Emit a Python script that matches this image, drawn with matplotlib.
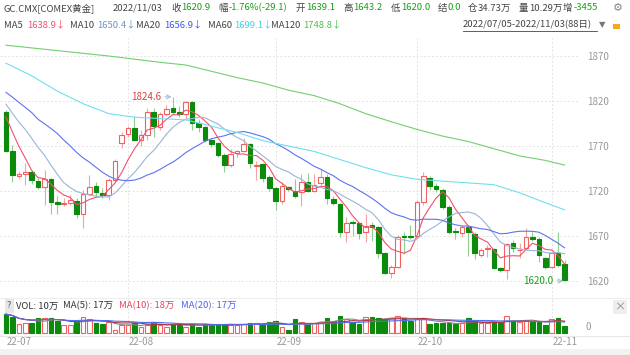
import matplotlib
matplotlib.use('Agg')
import matplotlib.pyplot as plt
import numpy as np
import pandas as pd

plt.rcParams['font.family'] = ['Noto Sans CJK SC', 'DejaVu Sans']

# GC.CMX 日K线 2022/07/05 - 2022/11/03 (88日)
opens = [1808, 1764, 1737, 1738.5, 1741, 1731, 1724, 1733, 1708, 1706,
         1707, 1709, 1694, 1717, 1726, 1718, 1716, 1732, 1773, 1783,
         1790, 1777, 1782, 1808, 1791, 1805.6, 1812, 1808, 1806, 1819,
         1796, 1791, 1777, 1773, 1760, 1749, 1762, 1764, 1772, 1748,
         1750, 1736, 1723, 1709, 1724, 1720, 1718.5, 1730, 1720, 1728.5,
         1736, 1711, 1706, 1674, 1686, 1684, 1674, 1682, 1680, 1651,
         1629, 1636, 1670, 1670, 1670, 1708, 1734, 1726, 1721, 1702.6,
         1676, 1673, 1680, 1672, 1649, 1655.5, 1656, 1634, 1632, 1662.6,
         1654, 1657, 1669, 1667, 1646, 1636, 1651, 1639.1]
highs = [1810, 1771, 1742, 1751, 1743, 1734, 1743, 1734, 1714, 1712,
         1716, 1712, 1721, 1738, 1730, 1723, 1734, 1756, 1786, 1792,
         1803, 1788, 1812, 1812, 1808, 1816, 1824.6, 1814, 1820, 1820,
         1800, 1792, 1779, 1775, 1762, 1767, 1766, 1778.5, 1773, 1753,
         1751, 1738, 1724, 1730, 1726, 1733, 1739, 1740, 1739, 1745,
         1739, 1714, 1707, 1691.5, 1688, 1686, 1695, 1686, 1681, 1652,
         1638, 1671, 1675, 1682, 1710, 1741, 1737, 1728.5, 1723, 1704,
         1678.5, 1682, 1682, 1674, 1657, 1660, 1657, 1636, 1662, 1665.6,
         1662, 1678.5, 1675, 1669, 1647, 1651, 1675, 1643.2]
lows = [1763, 1730, 1735, 1727, 1728, 1722, 1704, 1695, 1695, 1703,
        1705, 1690, 1678.5, 1716, 1715, 1712, 1710, 1730, 1768, 1780,
        1776, 1770, 1777, 1780, 1788, 1803, 1805.6, 1802, 1801, 1788,
        1786, 1775, 1769, 1758, 1741, 1747, 1758, 1763, 1746, 1732,
        1730, 1720, 1699, 1706, 1720, 1712, 1703, 1719, 1719, 1727,
        1706, 1705, 1669, 1663, 1670, 1667, 1663, 1664, 1646, 1628,
        1623, 1634, 1650, 1667, 1668, 1705, 1721, 1719, 1700, 1672,
        1667, 1669, 1648, 1645, 1647, 1647, 1633, 1630, 1622, 1652,
        1646, 1654, 1664, 1641.5, 1633, 1634, 1636, 1620.0]
closes = [1764, 1738, 1739, 1741, 1732, 1724, 1733, 1708, 1706, 1707,
          1710, 1694, 1717, 1725, 1718.5, 1716, 1732, 1753, 1782, 1790,
          1777, 1782, 1808, 1792, 1805.6, 1811, 1808, 1806, 1819, 1796,
          1791, 1777, 1772, 1760, 1749, 1760.8, 1764, 1772, 1751, 1749,
          1735, 1723, 1709, 1726, 1722, 1714, 1730, 1720, 1727, 1735,
          1712, 1707, 1674, 1684, 1684.5, 1673, 1681, 1680, 1651.5, 1629,
          1636, 1668.5, 1669, 1668.5, 1708, 1737, 1725.6, 1722, 1702.6, 1675,
          1674, 1679.6, 1674, 1651, 1655, 1656.5, 1634, 1632, 1661, 1657,
          1655, 1669.4, 1667, 1649, 1635.6, 1651, 1638, 1620.9]
# 成交量 (万)
volumes = [29, 25, 14, 15, 16, 23, 23, 23, 18, 13,
           13, 18, 25, 22, 15, 14, 17, 5, 13, 13,
           16, 10, 13, 17, 13, 10, 14, 13, 10, 14,
           10, 14, 13, 14, 14, 13, 12, 14, 16, 15,
           14, 17, 19, 10, 5, 21, 17, 14, 15, 17,
           23, 19, 26, 22, 17, 14, 24, 24, 23, 21,
           23, 26, 23, 19, 21, 22, 14, 15, 15, 15,
           14, 15, 23, 18, 15, 15, 17, 17, 26, 18,
           17, 19, 19, 17, 13, 21, 23, 10.29]
# 区间之前的收盘价（按图中均线起点估计）
prev_closes = [1844, 1855, 1852, 1848, 1875, 1831, 1813, 1819, 1851, 1840,
               1838, 1838, 1822, 1830, 1825, 1821, 1818, 1807, 1801]
# MA60 / MA120 从图中读取
ma_long_idx = [0, 4, 8, 12, 16, 20, 24, 28, 32, 36, 40, 44,
               48, 52, 56, 60, 64, 68, 72, 76, 80, 84, 87]
ma60 = [1862, 1848, 1831, 1817, 1806, 1802, 1800.5, 1799, 1792, 1785, 1776, 1770,
        1764, 1755, 1746, 1738, 1733, 1731, 1729, 1727, 1718, 1707, 1699.1]
ma120 = [1882, 1879, 1876, 1873, 1870, 1866.5, 1863, 1860, 1853, 1846, 1840, 1832,
         1826, 1817, 1806, 1797, 1788.5, 1781, 1775, 1767, 1759, 1754, 1748.8]
month_idx = [0, 19, 42, 64, 85]
month_labels = ['22-07', '22-08', '22-09', '22-10', '22-11']
price_ticks = [1620, 1670, 1720, 1770, 1820, 1870]

W, H = 630, 355
RED, RED_W = '#f26060', '#f5a3a3'
GRN, GRN_W = '#0b8a0b', '#8fd08f'
C_MA5, C_MA10, C_MA20, C_MA60, C_MA120 = '#f0506e', '#9ab5d6', '#5f72f0', '#6fe0ee', '#72cf72'
FS = 6.8


def fx(px):
    return px / W


def fy(py):
    return 1 - py / H


o = np.array(opens)
h = np.array(highs)
l = np.array(lows)
c = np.array(closes)
x = np.arange(len(c))
up = c >= o

full = pd.Series(prev_closes + closes)
n0 = len(prev_closes)
ma5 = full.rolling(5).mean().values[n0:]
ma10 = full.rolling(10).mean().values[n0:]
ma20 = full.rolling(20).mean().values[n0:]

fig = plt.figure(figsize=(W / 100, H / 100), dpi=100)
fig.patch.set_facecolor('white')

# 价格区
ax = fig.add_axes([0, fy(300), fx(580), (300 - 38) / H])
ax.set_xlim(-6 / 6.42, 574 / 6.42)
ax.set_ylim(1620 + (281 - 300) / 0.9, 1620 + (281 - 38) / 0.9)
for p in price_ticks:
    ax.axhline(p, color='#e4e4e4', lw=0.7, ls=(0, (2, 2)), zorder=0)
for m in month_idx[1:]:
    ax.axvline(m, color='#e4e4e4', lw=0.7, ls=(0, (2, 2)), zorder=0)

ax.vlines(x, l, h, colors=np.where(up, RED_W, GRN_W), lw=0.8, zorder=1)
body = np.maximum(np.abs(c - o), 0.8)
ax.bar(x, body, bottom=np.minimum(o, c), width=0.72,
       color=np.where(up, 'white', GRN), edgecolor=np.where(up, RED, GRN),
       lw=0.8, zorder=2)

ax.plot(x, ma5, color=C_MA5, lw=0.8, zorder=3)
ax.plot(x, ma10, color=C_MA10, lw=0.8, zorder=3)
ax.plot(x, ma20, color=C_MA20, lw=0.8, zorder=3)
ax.plot(ma_long_idx, ma60, color=C_MA60, lw=0.8, zorder=3)
ax.plot(ma_long_idx, ma120, color=C_MA120, lw=0.8, zorder=3)

hi_i = int(np.argmax(h))
lo_i = int(np.argmin(l))
ax.annotate(f'{h[hi_i]:.1f}', xy=(hi_i - 0.2, h[hi_i]), xytext=(hi_i - 1.9, h[hi_i]),
            ha='right', va='center', fontsize=7, color='#e03c3c',
            arrowprops=dict(arrowstyle='->', color='#a9c1d9', lw=0.8, shrinkA=1, shrinkB=0))
ax.annotate(f'{l[lo_i]:.1f}', xy=(lo_i - 0.2, l[lo_i]), xytext=(lo_i - 1.8, l[lo_i]),
            ha='right', va='center', fontsize=7, color='#1a9c1a',
            arrowprops=dict(arrowstyle='->', color='#a9c1d9', lw=0.8, shrinkA=1, shrinkB=0))

ax.yaxis.tick_right()
ax.set_yticks(price_ticks)
ax.tick_params(axis='y', length=0, pad=5, labelsize=7, labelcolor='#999999')
ax.set_xticks([])
for s in ax.spines.values():
    s.set_visible(False)

# 成交量区
vx = fig.add_axes([0, fy(337), fx(580), (337 - 300) / H])
vx.set_xlim(ax.get_xlim())
vx.set_ylim(-4 * 1.54, 33 * 1.54)
for m in month_idx[1:]:
    vx.axvline(m, color='#e4e4e4', lw=0.7, ls=(0, (2, 2)), zorder=0)
vol = np.array(volumes)
vx.bar(x, vol, width=0.72, color=np.where(up, 'white', GRN),
       edgecolor=np.where(up, RED, GRN), lw=0.8, zorder=2)
vs = pd.Series(vol)
vx.plot(x, vs.rolling(5, min_periods=1).mean(), color='#8a8a8a', lw=0.8, zorder=3)
vx.plot(x, vs.rolling(10, min_periods=1).mean(), color='#b03040', lw=0.8, zorder=3)
vx.plot(x, vs.rolling(20, min_periods=1).mean(), color='#5070f0', lw=0.8, zorder=3)
vx.set_xticks([])
vx.set_yticks([])
for s in vx.spines.values():
    s.set_visible(False)

fig.add_artist(plt.Line2D([0, 1], [fy(298), fy(298)], color='#eeeeee', lw=0.8))
fig.add_artist(plt.Line2D([0, 1], [fy(335.5), fy(335.5)], color='#e8e8e8', lw=0.8))
fig.text(fx(585), fy(327), '0', fontsize=7, color='#999999', va='center')

vol_ma5 = vs.rolling(5, min_periods=1).mean().iloc[-1]
vol_ma10 = vs.rolling(10, min_periods=1).mean().iloc[-1]
vol_ma20 = vs.rolling(20, min_periods=1).mean().iloc[-1]
fig.text(fx(7), fy(306), '?', fontsize=6.5, color='#555555', va='center',
         bbox=dict(boxstyle='square,pad=0.25', fc='#e8e8e8', ec='none'))
fig.text(fx(16), fy(306), f'VOL: {vol[-1]:.0f}万', fontsize=FS, color='#333333', va='center')
fig.text(fx(63), fy(306), f'MA(5): {vol_ma5:.0f}万', fontsize=FS, color='#333333', va='center')
fig.text(fx(119), fy(306), f'MA(10): {vol_ma10:.0f}万', fontsize=FS, color='#e8405a', va='center')
fig.text(fx(181), fy(306), f'MA(20): {vol_ma20:.0f}万', fontsize=FS, color='#4d62f0', va='center')
fig.text(fx(620), fy(307), '×', fontsize=8, color='#888888', va='center', ha='center',
         bbox=dict(boxstyle='square,pad=0.15', fc='#eeeeee', ec='none'))

# 日期
for m, lab in zip(month_idx, month_labels):
    fig.text(fx(7 + 6.42 * m), fy(342), lab, fontsize=7, color='#999999', va='center')
fig.add_artist(plt.Rectangle((0, 0), 1, fy(349), color='#f2f2f2', lw=0))

# 标题行
GRAY, GV = '#444444', '#1a9c1a'
row1 = [('GC.CMX[COMEX黄金]', 4, GRAY), ('2022/11/03', 113, GRAY),
        ('收', 171, GRAY), (f'{c[-1]:.1f}', 181, GV),
        ('幅', 218, GRAY), ('-1.76%(-29.1)', 229, GV),
        ('开', 296, GRAY), (f'{o[-1]:.1f}', 306, GV),
        ('高', 343, GRAY), (f'{h[-1]:.1f}', 353, GV),
        ('低', 391, GRAY), (f'{l[-1]:.1f}', 401, GV),
        ('结', 438, GRAY), ('0.0', 448, GV),
        ('仓', 468, GRAY), ('34.73万', 478, GRAY),
        ('量', 519, GRAY), ('10.29万', 529, GRAY),
        ('增', 563, GRAY), ('-3455', 574, GV)]
for t, px, col in row1:
    fig.text(fx(px), fy(8), t, fontsize=FS, color=col, va='center')
fig.text(fx(618), fy(8), '⚙', fontsize=8, color='#888888', va='center', ha='center',
         family='DejaVu Sans')

row2 = [('MA5', 4, GRAY), (f'{ma5[-1]:.1f}↓', 27, C_MA5),
        ('MA10', 70, GRAY), (f'{ma10[-1]:.1f}↓', 97, '#6f95c4'),
        ('MA20', 136, GRAY), (f'{ma20[-1]:.1f}↓', 164, '#3f58f0'),
        ('MA60', 208, GRAY), (f'{ma60[-1]:.1f}↓', 234, '#3fd3e6'),
        ('MA120', 271, GRAY), (f'{ma120[-1]:.1f}↓', 303, '#4cc24c')]
for t, px, col in row2:
    fig.text(fx(px), fy(25), t, fontsize=FS, color=col, va='center')
fig.text(fx(463), fy(25), '2022/07/05-2022/11/03(88日)', fontsize=FS, color='#444444',
         va='center')
fig.add_artist(plt.Line2D([fx(463), fx(597)], [fy(30.5), fy(30.5)], color='#444444', lw=0.6))
fig.text(fx(599), fy(25), '▼', fontsize=6, color='#777777', va='center', family='DejaVu Sans')
fig.add_artist(plt.Rectangle((fx(613), fy(29)), fx(7), 5 / H, color='#f5a623', lw=0))

fig.savefig('out.png', dpi=100)
